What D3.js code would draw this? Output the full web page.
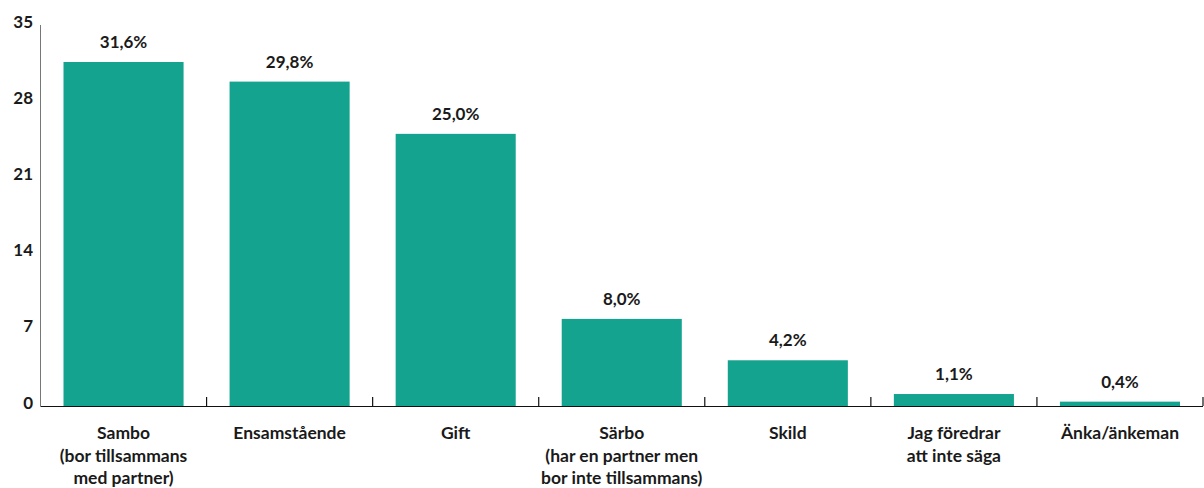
<!DOCTYPE html>
<html>
<head>
<meta charset="utf-8">
<script src="https://cdn.jsdelivr.net/npm/d3@7"></script>
<style>
  body { margin: 0; background: #fff; }
  text { font-family: Lato, "Open Sans", sans-serif; font-weight: bold; fill: #1a1a1a; }
</style>
</head>
<body>
<svg id="chart" width="1204" height="488"></svg>
<script>
// categories (lines of each label) and percentages
var categories = [
    ["Sambo", "(bor tillsammans", "med partner)"],
    ["Ensamstående"],
    ["Gift"],
    ["Särbo", "(har en partner men", "bor inte tillsammans)"],
    ["Skild"],
    ["Jag föredrar", "att inte säga"],
    ["Änka/änkeman"]
];
var values = [31.6, 29.8, 25.0, 8.0, 4.2, 1.1, 0.4];
var yTicks = [0, 7, 14, 21, 28, 35];

drawChart();

function drawChart() {
    var svg = d3.select('#chart');
    var plotLeft = 40.5, plotRight = 1203, plotTop = 25, plotBottom = 406;

    var x = d3.scaleBand()
        .domain(d3.range(categories.length))
        .range([plotLeft, plotRight])
        .paddingInner(0.277)
        .paddingOuter(0.1385);

    var y = d3.scaleLinear().domain([0, 35]).range([plotBottom, plotTop]);

    // y axis
    svg.append('line')
        .attr('x1', plotLeft).attr('x2', plotLeft)
        .attr('y1', y(35)).attr('y2', plotBottom)
        .attr('stroke', '#777').attr('stroke-width', 1);

    svg.selectAll('.ytick')
        .data(yTicks)
        .enter().append('text')
        .attr('class', 'ytick')
        .attr('x', 33)
        .attr('y', function(d){ return y(d); })
        .attr('dy', '0.15em')
        .attr('text-anchor', 'end')
        .style('font-size', '17px')
        .text(function(d){ return d; });

    // bars
    svg.selectAll('.bar')
        .data(values)
        .enter().append('rect')
        .attr('class', 'bar')
        .attr('x', function(d, i){ return x(i); })
        .attr('width', x.bandwidth())
        .attr('y', function(d){ return y(d); })
        .attr('height', function(d){ return plotBottom - y(d); })
        .attr('fill', '#14a38e');

    // value labels
    svg.selectAll('.val')
        .data(values)
        .enter().append('text')
        .attr('class', 'val')
        .attr('x', function(d, i){ return x(i) + x.bandwidth() / 2; })
        .attr('y', function(d){ return y(d) - 14; })
        .attr('text-anchor', 'middle')
        .style('font-size', '17px')
        .text(function(d){ return d.toFixed(1).replace('.', ',') + '%'; });

    // bottom axis line and ticks between categories
    svg.append('line')
        .attr('x1', plotLeft).attr('x2', plotRight)
        .attr('y1', plotBottom + 0.5).attr('y2', plotBottom + 0.5)
        .attr('stroke', '#111').attr('stroke-width', 1.2);

    svg.selectAll('.xtick')
        .data(d3.range(1, categories.length + 1))
        .enter().append('line')
        .attr('class', 'xtick')
        .attr('x1', function(d){ return plotLeft + d * x.step(); })
        .attr('x2', function(d){ return plotLeft + d * x.step(); })
        .attr('y1', plotBottom - 9).attr('y2', plotBottom)
        .attr('stroke', '#111').attr('stroke-width', 1.2);

    // category labels
    var cat = svg.selectAll('.cat')
        .data(categories)
        .enter().append('text')
        .attr('class', 'cat')
        .attr('text-anchor', 'middle')
        .style('font-size', '17.5px')
        .attr('transform', function(d, i){ return 'translate(' + (x(i) + x.bandwidth() / 2) + ',439)'; });

    cat.selectAll('tspan')
        .data(function(d){ return d; })
        .enter().append('tspan')
        .attr('x', 0)
        .attr('y', function(d, i){ return i * 22.5; })
        .text(function(d){ return d; });
}
</script>
</body>
</html>
